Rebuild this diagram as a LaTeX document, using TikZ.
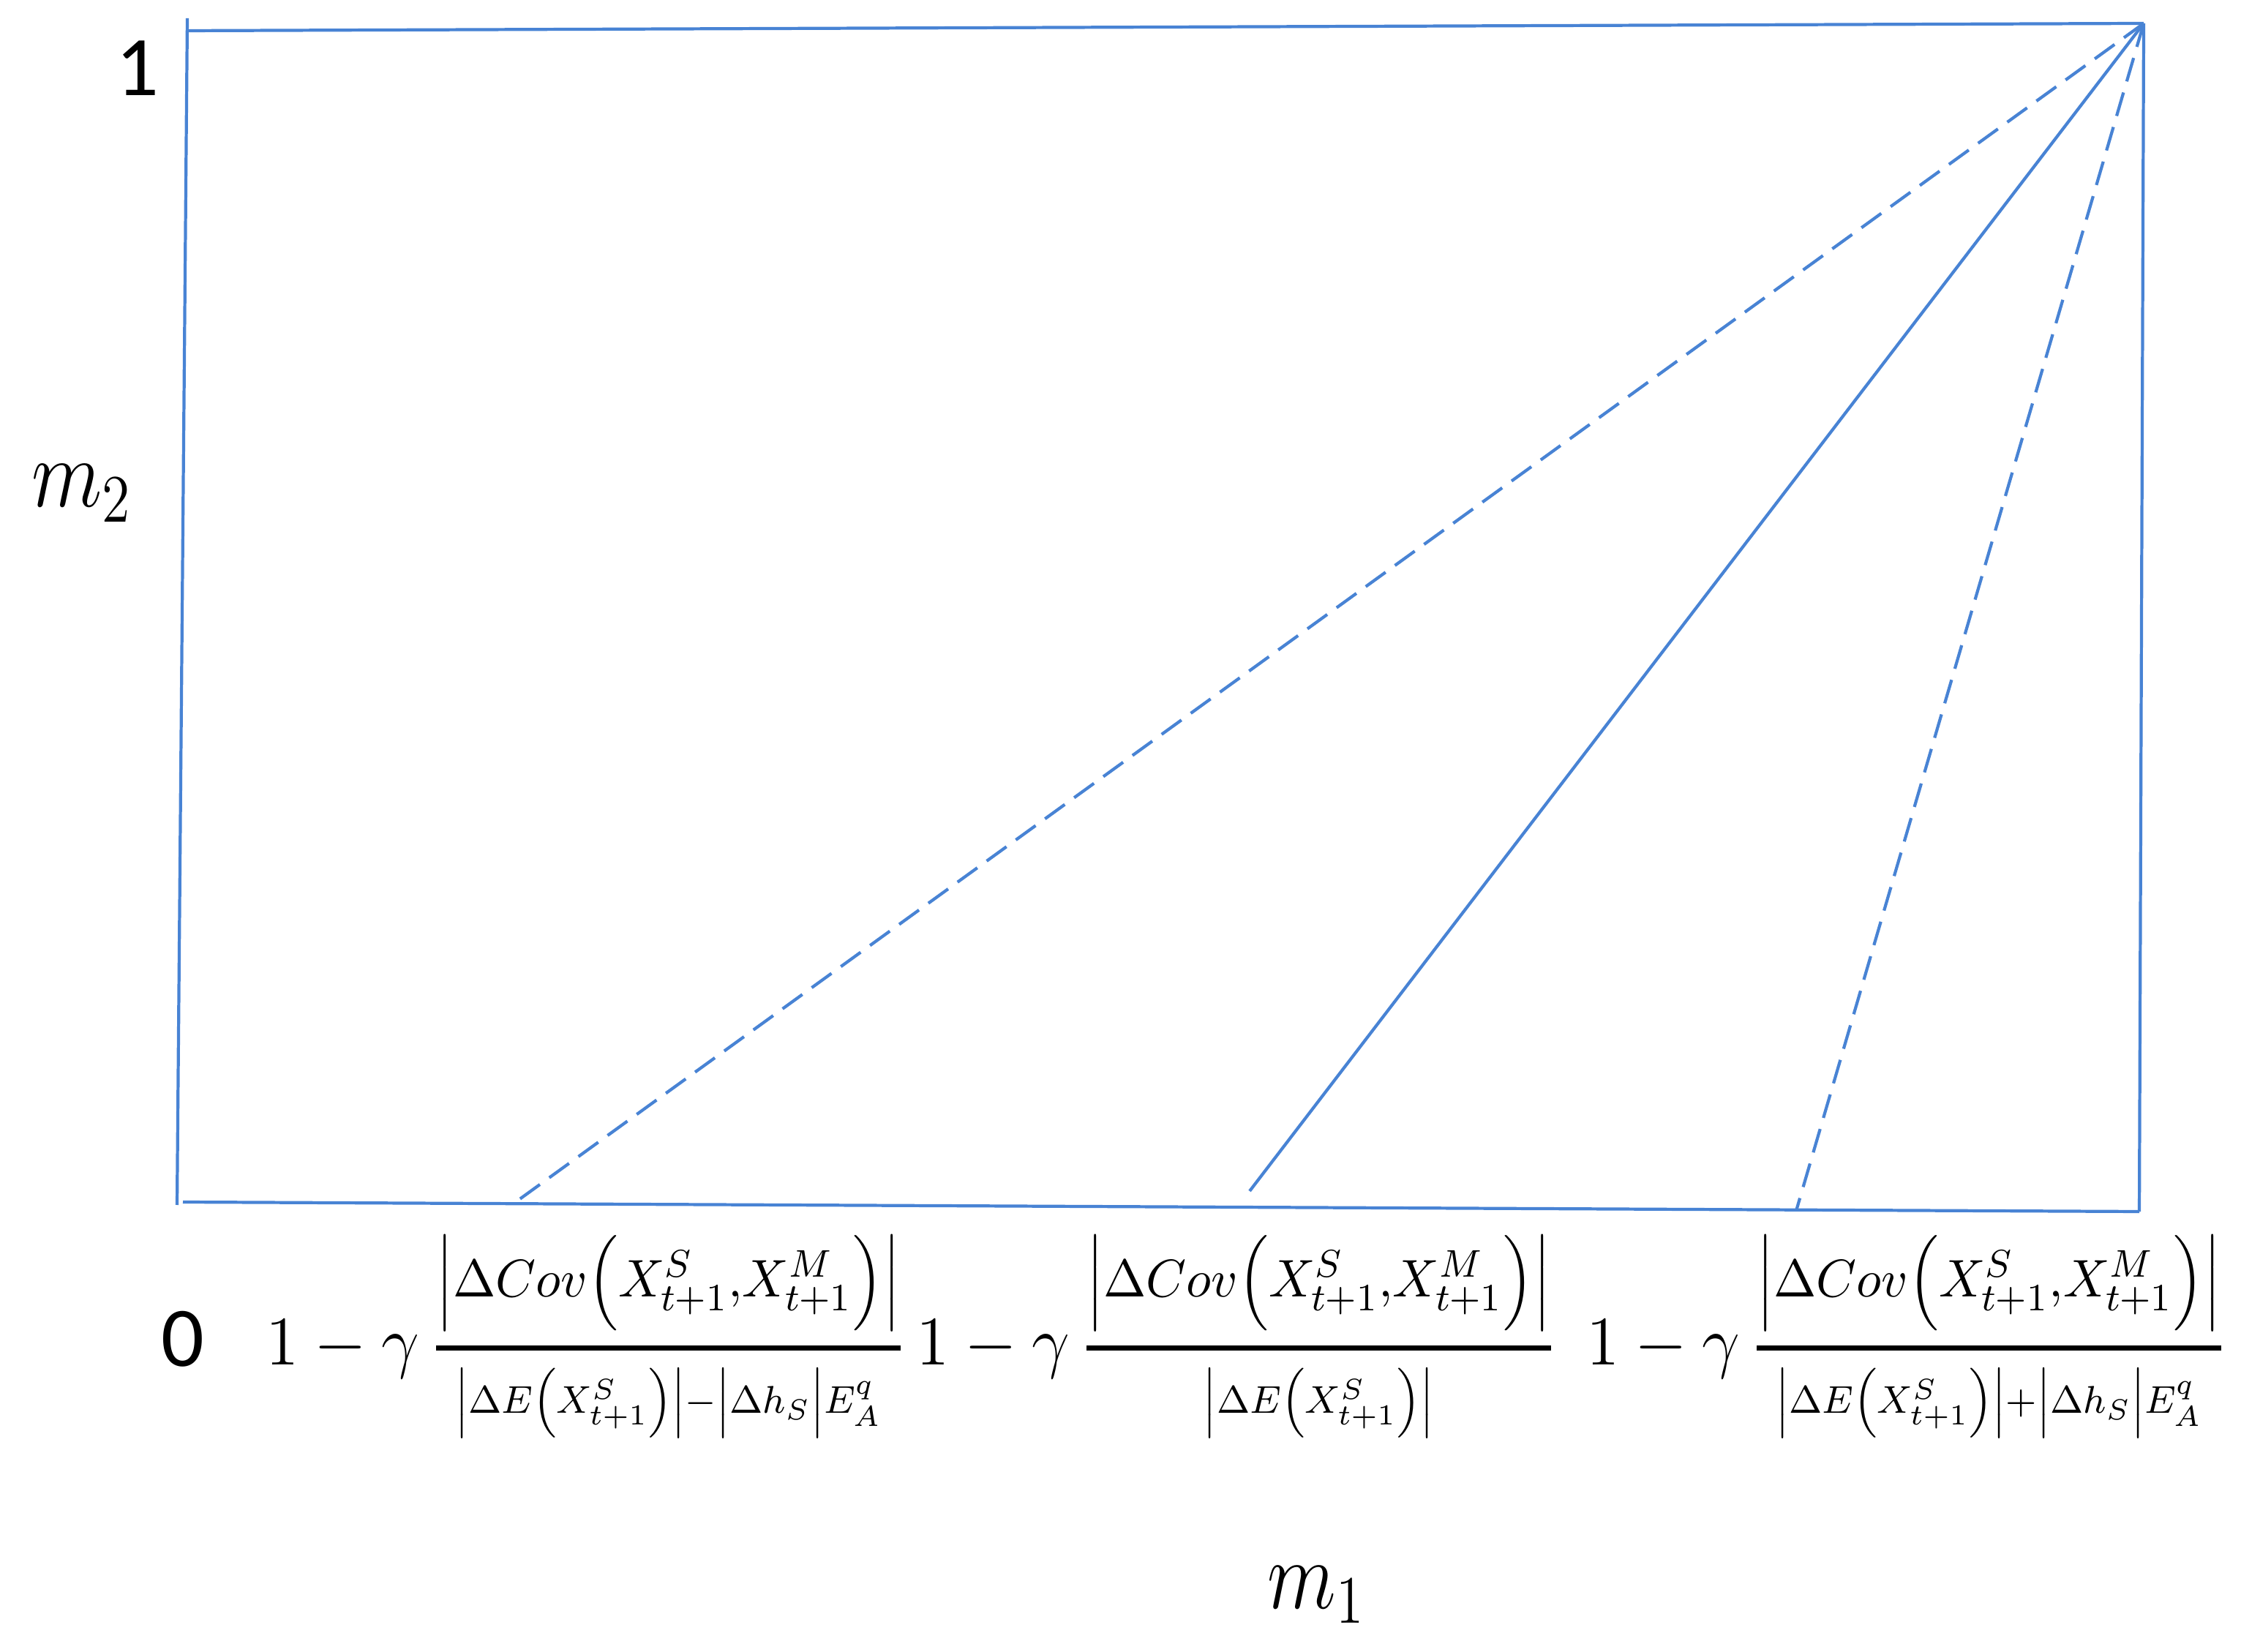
\documentclass[tikz,border=0pt]{standalone}
\usepackage{amsmath}
\usepackage{fontspec}
\newfontfamily\calibri{Carlito}
\definecolor{lineblue}{RGB}{72,131,212}
\tikzset{
  frameline/.style={draw=lineblue, line width=1.2pt},
  dashline/.style={draw=lineblue, line width=1.2pt, dash pattern=on 9.5pt off 4.5pt},
  solidline/.style={draw=lineblue, line width=1.2pt},
  ticklab/.style={font=\calibri\fontsize{33}{40}\selectfont, inner sep=0pt},
  axlab/.style={inner sep=0pt, anchor=base west, font=\fontsize{17.28}{20}\selectfont},
  mathlab/.style={inner sep=0pt, anchor=base west, font=\fontsize{14.4}{17}\selectfont},
}
\newcommand{\mfrac}[2]{\genfrac{}{}{1pt}{0}{\mbox{\fontsize{10.95}{13}\selectfont$#1$}}{\mbox{\fontsize{8}{10}\selectfont$#2$}}}
\newcommand{\parv}[1]{\Bigl(#1\Bigr)}
\newcommand{\absv}[1]{\Bigl|#1\Bigr|}
\newcommand{\covnum}{\absv{\Delta Cov\parv{X^{S}_{t+1}{,}X^{M}_{t+1}}}}
\newcommand{\edelta}{\absv{\Delta E\parv{X^{S}_{t+1}}}}
\begin{document}
\begin{tikzpicture}
\useasboundingbox (0,0) rectangle (30.63,22.57);
% frame corners
\coordinate (lt) at (2.56,22.32);
\coordinate (lb) at (2.42,6.10);
\coordinate (tl) at (2.58,22.15);
\coordinate (tr) at (29.30,22.25);
\coordinate (br) at (29.24,6.01);
\coordinate (bl) at (2.50,6.14);
\coordinate (f1) at (7.02,6.12);
\coordinate (f2) at (17.08,6.29);
\coordinate (f3) at (24.55,6.02);
% frame
\draw[frameline] (lt) -- (lb);
\draw[frameline] (tl) -- (tr);
\draw[frameline] (tr) -- (br);
\draw[frameline] (bl) -- (br);
% rays
\draw[dashline] (tr) -- (f1);
\draw[solidline] (tr) -- (f2);
\draw[dashline] (tr) -- (f3);
% labels
\node[ticklab] (one) at (1.88,21.64) {1};
\node[ticklab] (zero) at (2.50,4.27) {0};
\node[axlab] (m2) at (0.43,15.64) {\scalebox{1.85}[2.2]{$m_{2}$}};
\node[axlab] (m1) at (17.32,0.59) {\scalebox{1.8}[2.2]{$m_{1}$}};
\node[mathlab] (x1) at (3.63,3.91) {\scalebox{1.82}[1.88]{$1-\gamma\,\mfrac{\covnum}{\edelta{-}\absv{\Delta h_{S}}E^{q}_{A}}$}};
\node[mathlab] (x2) at (12.52,3.91) {\scalebox{1.82}[1.88]{$1-\gamma\,\mfrac{\covnum}{\edelta}$}};
\node[mathlab] (x3) at (21.68,3.91) {\scalebox{1.82}[1.88]{$1-\gamma\,\mfrac{\covnum}{\edelta{+}\absv{\Delta h_{S}}E^{q}_{A}}$}};
\end{tikzpicture}
\end{document}
